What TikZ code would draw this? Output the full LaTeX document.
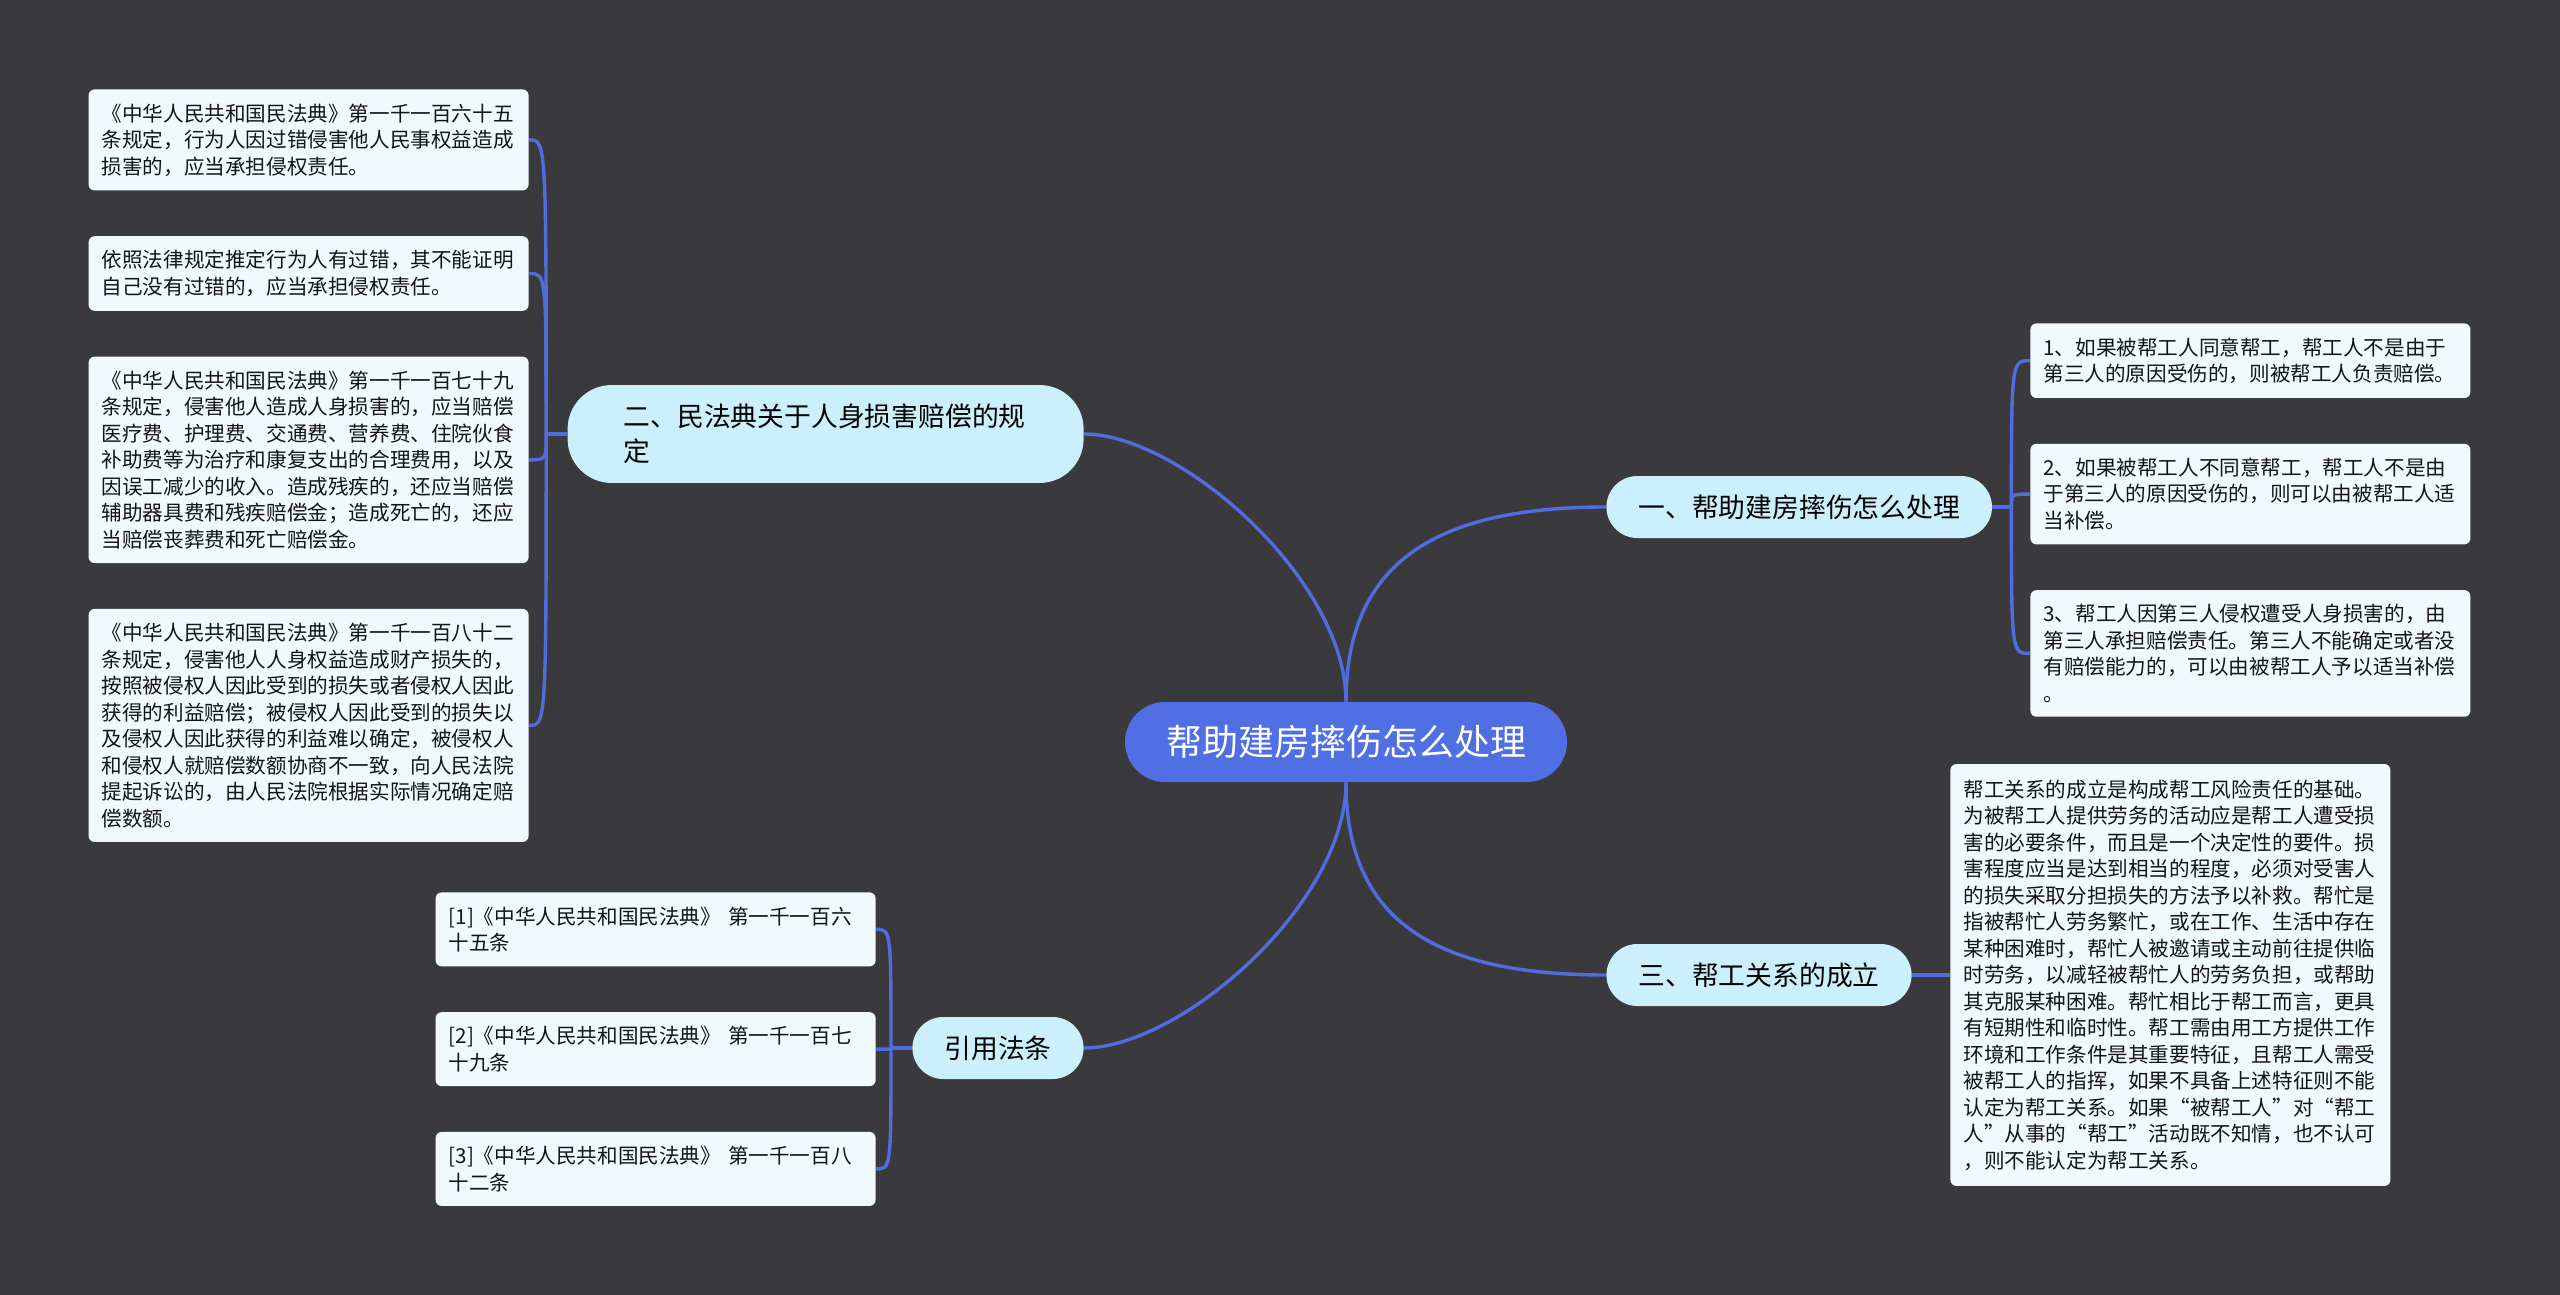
\documentclass[tikz,border=0pt]{standalone}
\usepackage{fontspec}
\setmainfont{Noto Sans CJK SC}
\usepackage{xcolor}
\usetikzlibrary{positioning}

\definecolor{bgdark}{RGB}{58,57,60}
\definecolor{rootblue}{RGB}{79,111,226}
\definecolor{topicfill}{RGB}{204,239,253}
\definecolor{leaffill}{RGB}{240,250,253}
\definecolor{linkblue}{RGB}{80,108,222}
\definecolor{leaftext}{RGB}{20,20,20}

\begin{document}
\begin{tikzpicture}[
  x=0.5pt, y=-0.5pt,
  root/.style={fill=rootblue, text=white, rounded corners=20pt,
    minimum height=40pt, inner xsep=20.5pt,
    font=\fontsize{18}{22}\selectfont},
  topic/.style={fill=topicfill, text=black, rounded corners=15.5pt,
    minimum height=31pt, inner xsep=16pt,
    font=\fontsize{13.4}{17.5}\selectfont},
  leaf/.style={fill=leaffill, text=leaftext, rounded corners=3pt,
    text width=207pt, inner xsep=6.5pt, inner ysep=7.1pt, align=left,
    font=\fontsize{10.3}{13.25}\selectfont},
  link/.style={draw=linkblue, line width=1.7pt},
  node distance=22.5pt,
]

\fill[bgdark] (0,0) rectangle (2560,1295);
\useasboundingbox (0,0) rectangle (2560,1295);

\node[root] (root) at (1346,742) {帮助建房摔伤怎么处理};

\node[topic, anchor=east, text width=202pt, inner xsep=28pt,
  inner ysep=9.5pt, align=left, rounded corners=22pt] (law) at (1084,434)
  {二、民法典关于人身损害赔偿的规\\定};
\node[topic, anchor=west] (help) at (1606,507) {一、帮助建房摔伤怎么处理};
\node[topic, anchor=west] (rel) at (1606,975) {三、帮工关系的成立};
\node[topic, anchor=east] (cite) at (1084,1048) {引用法条};

% left: civil code articles
\node[leaf, anchor=north east] (law1) at (529,89)
  {《中华人民共和国民法典》第一千一百六十五\\
   条规定，行为人因过错侵害他人民事权益造成\\
   损害的，应当承担侵权责任。};
\node[leaf, below=of law1] (law2)
  {依照法律规定推定行为人有过错，其不能证明\\
   自己没有过错的，应当承担侵权责任。};
\node[leaf, below=of law2] (law3)
  {《中华人民共和国民法典》第一千一百七十九\\
   条规定，侵害他人造成人身损害的，应当赔偿\\
   医疗费、护理费、交通费、营养费、住院伙食\\
   补助费等为治疗和康复支出的合理费用，以及\\
   因误工减少的收入。造成残疾的，还应当赔偿\\
   辅助器具费和残疾赔偿金；造成死亡的，还应\\
   当赔偿丧葬费和死亡赔偿金。};
\node[leaf, below=of law3] (law4)
  {《中华人民共和国民法典》第一千一百八十二\\
   条规定，侵害他人人身权益造成财产损失的，\\
   按照被侵权人因此受到的损失或者侵权人因此\\
   获得的利益赔偿；被侵权人因此受到的损失以\\
   及侵权人因此获得的利益难以确定，被侵权人\\
   和侵权人就赔偿数额协商不一致，向人民法院\\
   提起诉讼的，由人民法院根据实际情况确定赔\\
   偿数额。};

% right: the three cases
\node[leaf, anchor=north west] (help1) at (2030,323)
  {1、如果被帮工人同意帮工，帮工人不是由于\\
   第三人的原因受伤的，则被帮工人负责赔偿。};
\node[leaf, below=of help1] (help2)
  {2、如果被帮工人不同意帮工，帮工人不是由\\
   于第三人的原因受伤的，则可以由被帮工人适\\
   当补偿。};
\node[leaf, below=of help2] (help3)
  {3、帮工人因第三人侵权遭受人身损害的，由\\
   第三人承担赔偿责任。第三人不能确定或者没\\
   有赔偿能力的，可以由被帮工人予以适当补偿\\
   。};

\node[leaf, anchor=west, inner ysep=7.8pt] (rel1) at (1950,975)
  {帮工关系的成立是构成帮工风险责任的基础。\\
   为被帮工人提供劳务的活动应是帮工人遭受损\\
   害的必要条件，而且是一个决定性的要件。损\\
   害程度应当是达到相当的程度，必须对受害人\\
   的损失采取分担损失的方法予以补救。帮忙是\\
   指被帮忙人劳务繁忙，或在工作、生活中存在\\
   某种困难时，帮忙人被邀请或主动前往提供临\\
   时劳务，以减轻被帮忙人的劳务负担，或帮助\\
   其克服某种困难。帮忙相比于帮工而言，更具\\
   有短期性和临时性。帮工需由用工方提供工作\\
   环境和工作条件是其重要特征，且帮工人需受\\
   被帮工人的指挥，如果不具备上述特征则不能\\
   认定为帮工关系。如果“被帮工人”对“帮工\\
   人”从事的“帮工”活动既不知情，也不认可\\
   ，则不能认定为帮工关系。};

% bottom left: references
\node[leaf, anchor=north east] (cite1) at (876,892)
  {[1]《中华人民共和国民法典》 第一千一百六\\
   十五条};
\node[leaf, below=of cite1] (cite2)
  {[2]《中华人民共和国民法典》 第一千一百七\\
   十九条};
\node[leaf, below=of cite2] (cite3)
  {[3]《中华人民共和国民法典》 第一千一百八\\
   十二条};

\draw[link] (root.north) .. controls +(0,-122) and +(96,0) .. (law.east);
\draw[link] (root.north) .. controls +(0,-142) and +(-166,0) .. (help.west);
\draw[link] (root.south) .. controls +(0,142) and +(-166,0) .. (rel.west);
\draw[link] (root.south) .. controls +(0,122) and +(96,0) .. (cite.east);

\draw[link] (law.west) -- ++(-21,0) coordinate (lawj);
\foreach \n in {law1,law2,law3,law4}
  \draw[link] (lawj) .. controls (lawj |- \n.east) .. (\n.east);

\draw[link] (help.east) -- ++(19,0) coordinate (helpj);
\foreach \n in {help1,help2,help3}
  \draw[link] (helpj) .. controls (helpj |- \n.west) .. (\n.west);

\draw[link] (rel.east) -- (rel1.west);

\draw[link] (cite.west) -- ++(-21,0) coordinate (citej);
\foreach \n in {cite1,cite2,cite3}
  \draw[link] (citej) .. controls (citej |- \n.east) .. (\n.east);

\end{tikzpicture}
\end{document}
